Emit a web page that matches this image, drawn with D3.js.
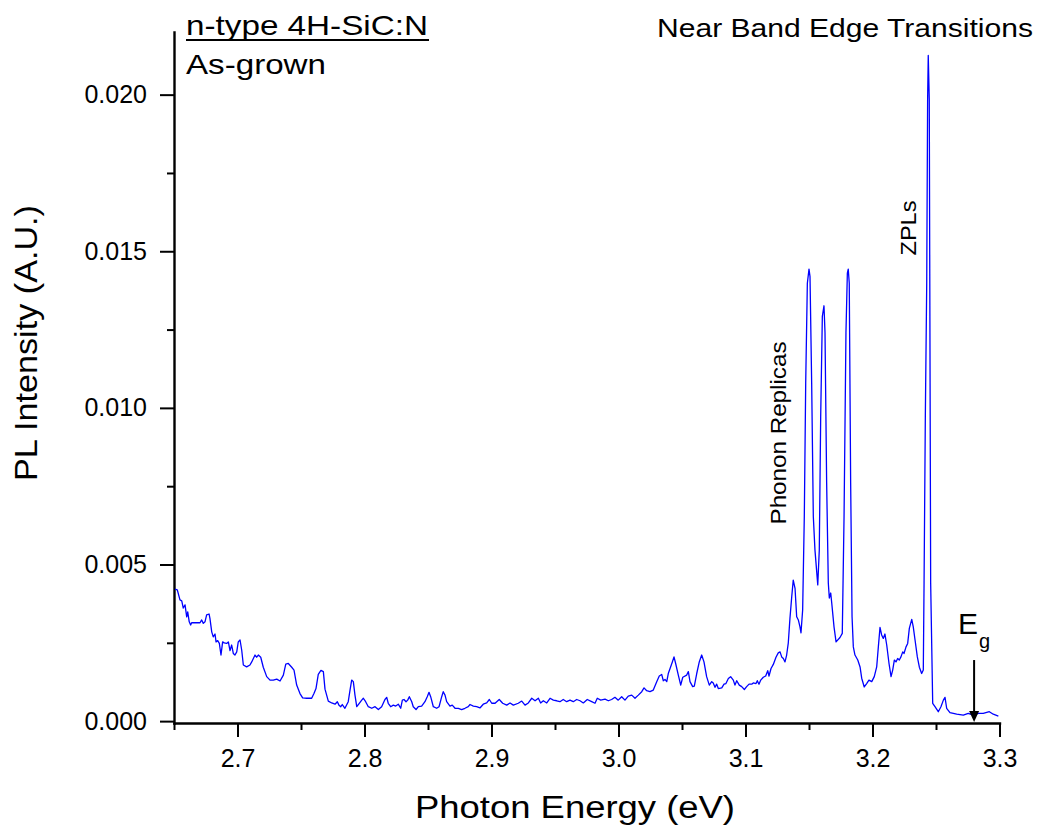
<!DOCTYPE html>
<html>
<head>
<meta charset="utf-8">
<script src="https://cdn.jsdelivr.net/npm/d3@7"></script>
<style>
  body { margin: 0; background: #fff; }
  svg text { font-family: "Liberation Sans", Arial, sans-serif; fill: #000; }
</style>
</head>
<body>
<div id="chart"></div>
<script>
// PL spectrum, [photon energy (eV), PL intensity (A.U.)]
var spectrumLow = [
  [2.6508,0.00421],[2.6526,0.00419],[2.6547,0.00387],[2.6561,0.00384],[2.6573,0.00361],[2.6587,0.00371],
  [2.6600,0.00333],[2.6608,0.00349],[2.6620,0.00317],[2.6631,0.00307],[2.6639,0.00314],[2.6665,0.00314],
  [2.6705,0.00314],[2.6718,0.00323],[2.6731,0.00312],[2.6744,0.00317],[2.6757,0.00339],[2.6776,0.00342],
  [2.6783,0.00328],[2.6797,0.00285],[2.6809,0.00269],[2.6823,0.00278],[2.6831,0.00253],[2.6844,0.00257],
  [2.6857,0.00248],[2.6870,0.00211],[2.6883,0.00253],[2.6896,0.00250],[2.6915,0.00248],[2.6928,0.00253],
  [2.6941,0.00225],[2.6954,0.00243],[2.6967,0.00216],[2.6980,0.00211],[2.6994,0.00221],[2.7006,0.00253],
  [2.7020,0.00259],[2.7033,0.00227],[2.7046,0.00179],[2.7072,0.00173],[2.7098,0.00179],[2.7112,0.00189],
  [2.7138,0.00211],[2.7151,0.00204],[2.7164,0.00211],[2.7183,0.00204],[2.7203,0.00172],[2.7230,0.00142],
  [2.7256,0.00131],[2.7282,0.00131],[2.7309,0.00134],[2.7335,0.00128],[2.7361,0.00147],[2.7380,0.00182],
  [2.7400,0.00184],[2.7427,0.00172],[2.7445,0.00163],[2.7466,0.00115],[2.7492,0.00088],[2.7513,0.00074],
  [2.7545,0.00073],[2.7584,0.00073],[2.7602,0.00088],[2.7618,0.00104],[2.7636,0.00149],[2.7657,0.00162],
  [2.7676,0.00158],[2.7689,0.00102],[2.7715,0.00064]
];

var spectrumMid = [
  [2.7742,0.00058],[2.7768,0.00054],[2.7786,0.00062],[2.7799,0.00051],[2.7813,0.00046],[2.7825,0.00053],
  [2.7846,0.00041],[2.7872,0.00062],[2.7886,0.00099],[2.7899,0.00131],[2.7912,0.00126],[2.7925,0.00083],
  [2.7939,0.00046],[2.7959,0.00057],[2.7978,0.00067],[2.7991,0.00073],[2.8009,0.00062],[2.8030,0.00046],
  [2.8057,0.00041],[2.8083,0.00046],[2.8109,0.00037],[2.8135,0.00046],[2.8161,0.00069],[2.8175,0.00076],
  [2.8187,0.00057],[2.8206,0.00046],[2.8227,0.00051],[2.8246,0.00048],[2.8266,0.00054],[2.8285,0.00041],
  [2.8298,0.00067],[2.8311,0.00069],[2.8327,0.00062],[2.8340,0.00067],[2.8353,0.00078],[2.8372,0.00062],
  [2.8384,0.00046],[2.8406,0.00037],[2.8424,0.00046],[2.8450,0.00048],[2.8476,0.00062],[2.8494,0.00078],
  [2.8508,0.00092],[2.8521,0.00078],[2.8542,0.00046],[2.8568,0.00041],[2.8587,0.00046],[2.8608,0.00078],
  [2.8620,0.00094],[2.8634,0.00083],[2.8647,0.00062],[2.8673,0.00048],[2.8691,0.00051],[2.8713,0.00041],
  [2.8739,0.00041],[2.8765,0.00037],[2.8791,0.00041],[2.8817,0.00046],[2.8831,0.00053],[2.8857,0.00048],
  [2.8883,0.00046],[2.8909,0.00042],[2.8935,0.00054],[2.8962,0.00058],[2.8983,0.00069],[2.9002,0.00057],
  [2.9028,0.00057],[2.9061,0.00069],[2.9088,0.00057],[2.9120,0.00051],[2.9146,0.00058],[2.9172,0.00051]
];

var spectrumRise = [
  [2.9211,0.00057],[2.9238,0.00064],[2.9264,0.00051],[2.9290,0.00058],[2.9317,0.00073],[2.9343,0.00065],
  [2.9369,0.00073],[2.9387,0.00058],[2.9408,0.00065],[2.9435,0.00058],[2.9461,0.00073],[2.9487,0.00067],
  [2.9513,0.00065],[2.9539,0.00062],[2.9565,0.00069],[2.9592,0.00062],[2.9618,0.00067],[2.9644,0.00062],
  [2.9671,0.00069],[2.9697,0.00065],[2.9723,0.00058],[2.9754,0.00069],[2.9789,0.00062],[2.9815,0.00057],
  [2.9833,0.00073],[2.9860,0.00067],[2.9894,0.00070],[2.9920,0.00065],[2.9946,0.00069],[2.9972,0.00076],
  [2.9998,0.00067],[3.0025,0.00078],[3.0051,0.00067],[3.0077,0.00080],[3.0104,0.00083],[3.0130,0.00073],
  [3.0156,0.00083],[3.0183,0.00094],[3.0201,0.00106],[3.0222,0.00097],[3.0248,0.00094],[3.0274,0.00099],
  [3.0301,0.00126],[3.0321,0.00144],[3.0340,0.00149],[3.0353,0.00129],[3.0366,0.00133],[3.0380,0.00126],
  [3.0392,0.00152],[3.0406,0.00168],[3.0424,0.00189],[3.0437,0.00205],[3.0450,0.00184],[3.0471,0.00147],
  [3.0490,0.00115],[3.0506,0.00140],[3.0537,0.00147],[3.0550,0.00158],[3.0563,0.00126],[3.0584,0.00110],
  [3.0597,0.00112],[3.0616,0.00152],[3.0636,0.00189],[3.0655,0.00211],[3.0673,0.00189],[3.0694,0.00142],
  [3.0715,0.00115],[3.0734,0.00126],[3.0746,0.00122],[3.0760,0.00108],[3.0773,0.00118],[3.0786,0.00104],
  [3.0813,0.00106],[3.0831,0.00118],[3.0846,0.00120],[3.0865,0.00136],[3.0883,0.00142],[3.0904,0.00131],
  [3.0917,0.00115],[3.0931,0.00129],[3.0951,0.00115],[3.0970,0.00110],[3.0991,0.00101],[3.1009,0.00110],
  [3.1028,0.00118],[3.1049,0.00118],[3.1061,0.00122],[3.1083,0.00120],[3.1093,0.00129],[3.1106,0.00118],
  [3.1120,0.00131],[3.1140,0.00140],[3.1159,0.00144],[3.1175,0.00161],[3.1185,0.00144],[3.1201,0.00168],
  [3.1219,0.00181],[3.1240,0.00204],[3.1258,0.00218],[3.1272,0.00221],[3.1285,0.00205],[3.1298,0.00200],
  [3.1311,0.00189],[3.1324,0.00211],[3.1337,0.00250]
];

var spectrumNBE = [
  [3.1350,0.00328],[3.1364,0.00397],[3.1376,0.00450],[3.1390,0.00424],[3.1403,0.00333],[3.1416,0.00323],
  [3.1429,0.00301],[3.1437,0.00282],[3.1450,0.00355],[3.1463,0.00653],[3.1474,0.01079],[3.1487,0.01398],
  [3.1500,0.01443],[3.1508,0.01419],[3.1521,0.01080],[3.1534,0.00653],[3.1547,0.00546],[3.1569,0.00435],
  [3.1581,0.00546],[3.1592,0.00972],[3.1605,0.01292],[3.1618,0.01326],[3.1626,0.01240],[3.1639,0.00760],
  [3.1652,0.00441],[3.1660,0.00393],[3.1671,0.00409],[3.1679,0.00377],[3.1697,0.00301],[3.1713,0.00253],
  [3.1744,0.00267],[3.1762,0.00280],[3.1776,0.00653],[3.1791,0.01240],[3.1802,0.01430],[3.1809,0.01443],
  [3.1817,0.01398],[3.1828,0.00760],[3.1839,0.00333],[3.1849,0.00237],[3.1862,0.00211],[3.1884,0.00195],
  [3.1902,0.00173],[3.1915,0.00137],[3.1935,0.00109],[3.1954,0.00120],[3.1972,0.00131],[3.1994,0.00126],
  [3.2014,0.00142],[3.2033,0.00173],[3.2046,0.00237],[3.2059,0.00299],[3.2072,0.00275],[3.2085,0.00264],
  [3.2098,0.00278],[3.2112,0.00243],[3.2130,0.00184],[3.2146,0.00142],[3.2159,0.00163],[3.2172,0.00195],
  [3.2185,0.00189],[3.2198,0.00200],[3.2211,0.00195],[3.2224,0.00205],[3.2238,0.00221],[3.2248,0.00216],
  [3.2264,0.00237],[3.2277,0.00248],[3.2290,0.00296],[3.2309,0.00325],[3.2321,0.00301],[3.2335,0.00259],
  [3.2353,0.00205],[3.2369,0.00172],[3.2387,0.00152],[3.2400,0.00163],[3.2406,0.00441],[3.2416,0.00972],
  [3.2427,0.01399],[3.2434,0.01984],[3.2439,0.02125],[3.2447,0.01984],[3.2458,0.00441],[3.2474,0.00057],
  [3.2492,0.00046],[3.2518,0.00030],[3.2539,0.00046],[3.2558,0.00067],[3.2571,0.00076],[3.2584,0.00041],
  [3.2610,0.00027],[3.2663,0.00022],[3.2715,0.00019],[3.2754,0.00025],[3.2794,0.00019],[3.2833,0.00025],
  [3.2872,0.00025],[3.2920,0.00030],[3.2951,0.00022],[3.2991,0.00016]
];

var xMajorTicks = [2.7, 2.8, 2.9, 3.0, 3.1, 3.2, 3.3];
var xMinorTicks = [2.65, 2.75, 2.85, 2.95, 3.05, 3.15, 3.25];
var yMajorTicks = [0.000, 0.005, 0.010, 0.015, 0.020];
var yMinorTicks = [0.0025, 0.0075, 0.0125, 0.0175];
var bandGap = 3.28;

var width = 1039, height = 831;

var svg = d3.select("#chart").append("svg")
    .attr("width", width)
    .attr("height", height);

var x = d3.scaleLinear().domain([2.65, 3.3]).range([174, 999.5]);
var y = d3.scaleLinear().domain([-0.00006, 0.0220]).range([723, 32]);

// minor ticks first, so the main axes draw over them
svg.append("g")
    .attr("transform", "translate(0,723)")
    .call(d3.axisBottom(x).tickValues(xMinorTicks).tickSize(7).tickFormat("").tickSizeOuter(0))
    .call(function(g) { g.select(".domain").remove(); })
    .selectAll("line").attr("stroke-width", 2);

svg.append("g")
    .attr("transform", "translate(174,0)")
    .call(d3.axisLeft(y).tickValues(yMinorTicks).tickSize(7).tickFormat("").tickSizeOuter(0))
    .call(function(g) { g.select(".domain").remove(); })
    .selectAll("line").attr("stroke-width", 2);

var xAxis = svg.append("g")
    .attr("transform", "translate(0,723)")
    .call(d3.axisBottom(x).tickValues(xMajorTicks).tickSize(14).tickPadding(12)
        .tickFormat(d3.format(".1f")).tickSizeOuter(0));

var yAxis = svg.append("g")
    .attr("transform", "translate(174,0)")
    .call(d3.axisLeft(y).tickValues(yMajorTicks).tickSize(14).tickPadding(13)
        .tickFormat(d3.format(".3f")).tickSizeOuter(0));

[xAxis, yAxis].forEach(function(a) {
    a.select(".domain").attr("stroke-width", 2.4).attr("stroke-linecap", "square");
    a.selectAll(".tick line").attr("stroke-width", 2);
    a.selectAll(".tick text")
        .attr("font-size", 25)
        .attr("font-family", "Liberation Sans, Arial, sans-serif");
});

// spectrum line
var spectrum = spectrumLow.concat(spectrumMid, spectrumRise, spectrumNBE);

svg.append("path")
    .datum(spectrum)
    .attr("fill", "none")
    .attr("stroke", "#0000ff")
    .attr("stroke-width", 1.3)
    .attr("stroke-linejoin", "round")
    .attr("d", d3.line()
        .x(function(d) { return x(d[0]); })
        .y(function(d) { return y(d[1]); }));

// axis titles
svg.append("text")
    .attr("x", 575).attr("y", 818)
    .attr("text-anchor", "middle")
    .attr("font-size", 31)
    .attr("textLength", 320).attr("lengthAdjust", "spacingAndGlyphs")
    .text("Photon Energy (eV)");

svg.append("text")
    .attr("transform", "translate(37,343) rotate(-90)")
    .attr("text-anchor", "middle")
    .attr("font-size", 31)
    .attr("textLength", 276).attr("lengthAdjust", "spacingAndGlyphs")
    .text("PL Intensity (A.U.)");

// sample labels, top left
svg.append("text")
    .attr("x", 186).attr("y", 35)
    .attr("font-size", 28)
    .attr("textLength", 242).attr("lengthAdjust", "spacingAndGlyphs")
    .text("n-type 4H-SiC:N");

svg.append("line")
    .attr("x1", 186).attr("x2", 429)
    .attr("y1", 40).attr("y2", 40)
    .attr("stroke", "#000").attr("stroke-width", 2);

svg.append("text")
    .attr("x", 186).attr("y", 74)
    .attr("font-size", 28)
    .attr("textLength", 140).attr("lengthAdjust", "spacingAndGlyphs")
    .text("As-grown");

svg.append("text")
    .attr("x", 657).attr("y", 37)
    .attr("font-size", 26)
    .attr("textLength", 376).attr("lengthAdjust", "spacingAndGlyphs")
    .text("Near Band Edge Transitions");

// peak annotations
svg.append("text")
    .attr("transform", "translate(786,433) rotate(-90)")
    .attr("text-anchor", "middle")
    .attr("font-size", 22)
    .attr("textLength", 183).attr("lengthAdjust", "spacingAndGlyphs")
    .text("Phonon Replicas");

svg.append("text")
    .attr("transform", "translate(916,228) rotate(-90)")
    .attr("text-anchor", "middle")
    .attr("font-size", 22)
    .attr("textLength", 55).attr("lengthAdjust", "spacingAndGlyphs")
    .text("ZPLs");

// band gap marker
var eg = svg.append("text")
    .attr("x", 958).attr("y", 634)
    .attr("font-size", 30);
eg.append("tspan").text("E");
eg.append("tspan").attr("font-size", 20).attr("dy", 14).attr("dx", 1).text("g");

var ax = x(bandGap);
svg.append("line")
    .attr("x1", ax).attr("x2", ax)
    .attr("y1", y(0.00195)).attr("y2", 712)
    .attr("stroke", "#000").attr("stroke-width", 2);

svg.append("path")
    .attr("d", "M" + (ax - 5) + ",711 L" + (ax + 5) + ",711 L" + ax + ",722 Z")
    .attr("fill", "#000");
</script>
</body>
</html>
